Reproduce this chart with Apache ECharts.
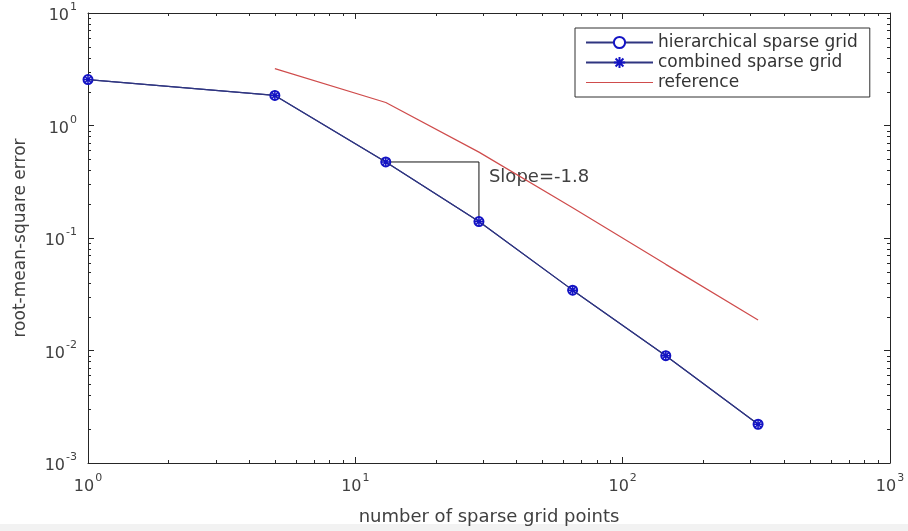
<!DOCTYPE html>
<html>
<head>
<meta charset="utf-8">
<style>
  html, body { margin: 0; padding: 0; background: #ffffff; }
  #chart { width: 908px; height: 531px; }
</style>
<script src="https://cdn.jsdelivr.net/npm/echarts@6/dist/echarts.min.js"></script>
</head>
<body>
<div id="chart"></div>
<script>
// Convergence of the sparse grid interpolants (log-log).
const gridPoints = [1, 5, 13, 29, 65, 145, 321];
const hierarchicalRmse = [2.56, 1.85, 0.474, 0.140, 0.0344, 0.0090, 0.00221];
const combinedRmse = [2.56, 1.85, 0.474, 0.140, 0.0344, 0.0090, 0.00221];
const referencePoints = [5, 13, 29, 65, 145, 321];
const referenceRmse = [3.20, 1.60, 0.580, 0.186, 0.0583, 0.0187];
const seriesNames = ['hierarchical sparse grid', 'combined sparse grid', 'reference'];
const slopeText = 'Slope=-1.8';
const xAxisTitle = 'number of sparse grid points';
const yAxisTitle = 'root-mean-square error';

// Decades shown on each axis (exponents of 10); minor ticks sit at 2..9 per decade.
const xDecades = [0, 1, 2];
const yDecades = [-3, -2, -1, 0];

function minorTicks(decades) {
  const out = [];
  decades.forEach(function (e) {
    for (let m = 2; m <= 9; m++) out.push(+(m * Math.pow(10, e)).toPrecision(6));
  });
  return out;
}
const xMinor = minorTicks(xDecades);
const yMinor = minorTicks(yDecades);

const axisColor = '#262626';
const textColor = '#404040';
const lineBlue = '#2f3580';
const markBlue = '#1414c4';
const refRed = '#cf4c4c';
const asterisk = 'path://M0,5L10,5M5,0L5,10M1.5,1.5L8.5,8.5M8.5,1.5L1.5,8.5';
const plainLineIcon = 'path://M0,0L100,0L100,1.4L0,1.4Z';

function powLabel(v) {
  const e = Math.round(Math.log10(v));
  return '{b|10}{s|' + e + '}';
}
const powRich = {
  b: { fontFamily: 'DejaVu Sans', fontSize: 16, color: textColor, lineHeight: 22, verticalAlign: 'bottom' },
  s: { fontFamily: 'DejaVu Sans', fontSize: 11, color: textColor, verticalAlign: 'top', padding: [0, 0, 0, 1] }
};

function logAxis(extra) {
  return Object.assign({
    type: 'log',
    logBase: 10,
    splitLine: { show: false },
    axisLine: { show: true, lineStyle: { color: axisColor, width: 1 } },
    axisTick: { show: true, inside: true, length: 6, lineStyle: { color: axisColor, width: 1 } },
    axisLabel: { show: false }
  }, extra);
}

function tickLine(x1, y1, x2, y2) {
  return { type: 'line', shape: { x1: x1, y1: y1, x2: x2, y2: y2 },
           style: { stroke: axisColor, lineWidth: 1 } };
}

const chart = echarts.init(document.getElementById('chart'), null, { renderer: 'canvas' });

chart.setOption({
  animation: false,
  backgroundColor: '#ffffff',
  grid: { left: 88, right: 18, top: 13, bottom: 65, containLabel: false },
  graphic: [{
    type: 'rect', z: -10, silent: true,
    shape: { x: 0, y: 524, width: 908, height: 7 },
    style: { fill: '#f2f2f2' }
  }],
  legend: {
    data: [
      { name: seriesNames[0] },
      { name: seriesNames[1] },
      { name: seriesNames[2], icon: plainLineIcon }
    ],
    orient: 'vertical',
    left: 575,
    top: 28,
    padding: [6, 12, 6, 10],
    itemGap: 3,
    itemWidth: 67,
    itemHeight: 14,
    borderColor: '#303030',
    borderWidth: 1,
    borderRadius: 0,
    backgroundColor: '#ffffff',
    textStyle: { fontFamily: 'DejaVu Sans', fontSize: 17, color: '#333333' }
  },
  xAxis: [
    logAxis({
      min: 1, max: 1000, position: 'bottom',
      axisLabel: { show: true, margin: 10, formatter: powLabel, rich: powRich },
      name: xAxisTitle, nameLocation: 'middle', nameGap: 45,
      nameTextStyle: { fontFamily: 'DejaVu Sans', fontSize: 18, color: textColor }
    }),
    logAxis({ min: 1, max: 1000, position: 'top' })
  ],
  yAxis: [
    logAxis({
      min: 0.001, max: 10, position: 'left',
      axisLabel: { show: true, margin: 11, formatter: powLabel, rich: powRich },
      name: yAxisTitle, nameLocation: 'middle', nameGap: 59,
      nameTextStyle: { fontFamily: 'DejaVu Sans', fontSize: 17, color: textColor }
    }),
    logAxis({ min: 0.001, max: 10, position: 'right' })
  ],
  series: [
    {
      name: seriesNames[2],
      type: 'line',
      data: referencePoints.map(function (x, i) { return [x, referenceRmse[i]]; }),
      symbol: 'none',
      lineStyle: { color: refRed, width: 1.2 },
      itemStyle: { color: refRed },
      z: 2
    },
    {
      name: seriesNames[0],
      type: 'line',
      data: gridPoints.map(function (x, i) { return [x, hierarchicalRmse[i]]; }),
      symbol: 'emptyCircle',
      symbolSize: 9,
      showSymbol: true,
      lineStyle: { color: lineBlue, width: 1.2 },
      itemStyle: { color: markBlue, borderColor: markBlue, borderWidth: 1.8 },
      z: 3
    },
    {
      name: seriesNames[1],
      type: 'line',
      data: gridPoints.map(function (x, i) { return [x, combinedRmse[i]]; }),
      symbol: asterisk,
      symbolSize: 10,
      showSymbol: true,
      lineStyle: { color: lineBlue, width: 1.2 },
      itemStyle: { color: markBlue, borderColor: markBlue, borderWidth: 1.5 },
      z: 4
    },
    {
      // slope triangle between the 3rd and 4th refinement levels
      name: 'slope',
      type: 'line',
      data: [
        [gridPoints[2], hierarchicalRmse[2]],
        {
          value: [gridPoints[3], hierarchicalRmse[2]],
          label: {
            show: true, position: 'right', distance: 10, offset: [0, 15],
            formatter: slopeText,
            fontFamily: 'DejaVu Sans', fontSize: 18, color: textColor
          }
        },
        [gridPoints[3], hierarchicalRmse[3]]
      ],
      symbol: 'circle',
      symbolSize: 0,
      showSymbol: true,
      lineStyle: { color: '#111111', width: 1 },
      itemStyle: { color: '#111111' },
      z: 1
    },
    {
      name: 'xMinorTicks',
      type: 'custom',
      silent: true,
      data: xMinor.map(function (v) { return [v, 1]; }),
      renderItem: function (params, api) {
        const cs = params.coordSys;
        const px = Math.round(api.coord([api.value(0), 1])[0]) + 0.5;
        const b = cs.y + cs.height;
        return { type: 'group', children: [
          tickLine(px, b, px, b - 3),
          tickLine(px, cs.y, px, cs.y + 3)
        ] };
      },
      z: 5
    },
    {
      name: 'yMinorTicks',
      type: 'custom',
      silent: true,
      data: yMinor.map(function (v) { return [1, v]; }),
      renderItem: function (params, api) {
        const cs = params.coordSys;
        const py = Math.round(api.coord([1, api.value(1)])[1]) + 0.5;
        const r = cs.x + cs.width;
        return { type: 'group', children: [
          tickLine(cs.x, py, cs.x + 3, py),
          tickLine(r, py, r - 3, py)
        ] };
      },
      z: 5
    }
  ]
});
</script>
</body>
</html>
